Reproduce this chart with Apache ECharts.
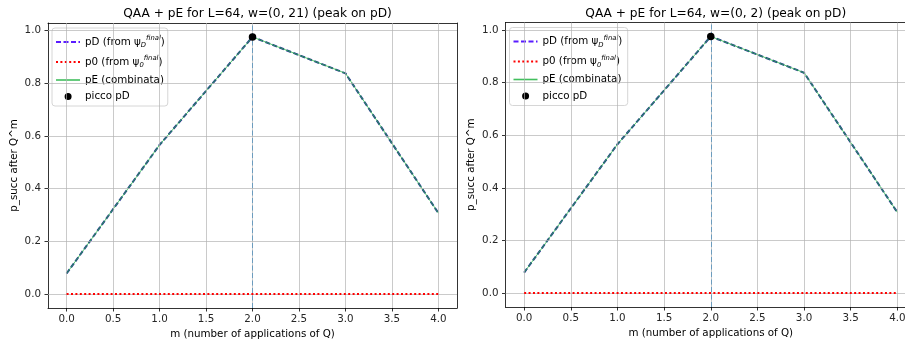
<!DOCTYPE html>
<html><head><meta charset="utf-8">
<script src="https://cdn.jsdelivr.net/npm/echarts@6/dist/echarts.min.js"></script>
<style>html,body{margin:0;padding:0;background:#fff;overflow:hidden}#c{width:905px;height:341px}</style>
</head><body><div id="c"></div>
<script>
const mValues = [0, 1, 2, 3, 4];
const pD_left = [0.078, 0.566, 0.976, 0.838, 0.307];
const p0_left = [0, 0, 0, 0, 0];
const pE_left = [0.078, 0.566, 0.976, 0.838, 0.307];
const pD_right = [0.078, 0.566, 0.976, 0.838, 0.307];
const p0_right = [0, 0, 0, 0, 0];
const pE_right = [0.078, 0.566, 0.976, 0.838, 0.307];
const peakM = 2;
const titles = ['QAA + pE for L=64, w=(0, 21) (peak on pD)', 'QAA + pE for L=64, w=(0, 2) (peak on pD)'];
const xTicks = [0, 0.5, 1, 1.5, 2, 2.5, 3, 3.5, 4];
const yTicks = [0, 0.2, 0.4, 0.6, 0.8, 1.0];
const names = ['pD (from ψ_D^final)', 'p0 (from ψ_0^final)', 'pE (combinata)', 'picco pD'];

const FONT = 'DejaVu Sans';
const FS = 10.3;
const chart = echarts.init(document.getElementById('c'), null, {renderer: 'canvas'});
const grids = [
  {left: 48, width: 409, top: 23, height: 285},
  {left: 505.5, width: 410.5, top: 22.5, height: 284.5}
];
function pairs(ys) { return mValues.map((m, i) => [m, ys[i]]); }
const panels = [[pD_left, p0_left, pE_left], [pD_right, p0_right, pE_right]];
const dotIcon = 'path://M0,0 L0.01,0 L0,0.01 Z M24,11 L23.99,11 L24,10.99 Z M8.6,5.5 A3.5,3.5 0 1 0 15.6,5.5 A3.5,3.5 0 1 0 8.6,5.5 Z';

const option = {
  animation: false,
  backgroundColor: '#fff',
  textStyle: {fontFamily: FONT},
  title: grids.map((g, i) => ({
    text: titles[i],
    left: g.left + g.width / 2,
    textAlign: 'center',
    top: 3,
    textStyle: {fontFamily: FONT, fontSize: 12.2, fontWeight: 'normal', color: '#000'}
  })),
  grid: grids.map(g => Object.assign({containLabel: false, outerBoundsMode: 'none', show: false}, g)),
  legend: grids.map((g, i) => ({
    left: g.left + 4,
    top: g.top + 5,
    orient: 'vertical',
    data: names.map((n, k) => ({
      name: n + (i ? ' ' : ''),
      icon: k === 3 ? dotIcon : undefined,
      itemStyle: k < 3 ? {color: 'rgba(0,0,0,0)', borderWidth: 0, opacity: 0} : {color: '#000', borderWidth: 0},
      lineStyle: k === 0 ? {color: '#5a1cff', width: 2, type: [5, 2.5]} :
                 k === 1 ? {color: '#ff0000', width: 2, type: [2, 2.4]} :
                 k === 2 ? {color: '#2db84d', width: 1.6, type: 'solid'} : undefined
    })),
    itemWidth: 24, itemHeight: 11, itemGap: 6,
    padding: [7, 3, 4, 3],
    backgroundColor: 'rgba(255,255,255,0.8)',
    borderColor: '#d6d6d6', borderWidth: 1, borderRadius: 3,
    formatter: function (n) {
      if (n.indexOf('pD (from') === 0) return 'pD (from ψ{sub|D}{sup|final})';
      if (n.indexOf('p0 (from') === 0) return 'p0 (from ψ{sub|0}{sup|final})';
      return n;
    },
    textStyle: {fontFamily: FONT, fontSize: FS, color: '#000',
      rich: {
        sub: {fontSize: 6.8, fontFamily: FONT, fontStyle: 'italic', verticalAlign: 'bottom', padding: [7, 0, 0, 0]},
        sup: {fontSize: 6.8, fontFamily: FONT, fontStyle: 'italic', verticalAlign: 'top', padding: [0, 0, 7, 0]}
      }
    }
  })),
  xAxis: grids.map((g, i) => ({
    type: 'value', gridIndex: i, min: -0.2, max: 4.2,
    name: 'm (number of applications of Q)', nameLocation: 'middle', nameGap: 20,
    nameTextStyle: {fontFamily: FONT, fontSize: FS, color: '#000'},
    axisLine: {show: true, onZero: false, lineStyle: {color: '#000', width: 0.8}},
    axisTick: {show: true, length: 3.5, customValues: xTicks, lineStyle: {color: '#000', width: 0.8}},
    axisLabel: {show: true, customValues: xTicks, margin: 6, fontFamily: FONT, fontSize: FS, color: '#262626',
      formatter: v => v.toFixed(1)},
    splitLine: {show: false}
  })).concat(grids.map((g, i) => ({
    type: 'value', gridIndex: i, min: -0.2, max: 4.2, position: 'top',
    axisLine: {show: true, onZero: false, lineStyle: {color: '#000', width: 0.8}},
    axisTick: {show: false}, axisLabel: {show: false},
    splitLine: {show: false}
  }))),
  yAxis: grids.map((g, i) => ({
    type: 'value', gridIndex: i, min: -0.053, max: 1.029,
    name: 'p_succ after Q^m', nameLocation: 'middle', nameGap: 29, nameRotate: 90,
    nameTextStyle: {fontFamily: FONT, fontSize: FS, color: '#000'},
    axisLine: {show: true, onZero: false, lineStyle: {color: '#000', width: 0.8}},
    axisTick: {show: true, length: 3.5, customValues: yTicks, lineStyle: {color: '#000', width: 0.8}},
    axisLabel: {show: true, customValues: yTicks, margin: 7, fontFamily: FONT, fontSize: FS, color: '#262626',
      formatter: v => v.toFixed(1)},
    splitLine: {show: false}
  })).concat(grids.map((g, i) => ({
    type: 'value', gridIndex: i, min: -0.053, max: 1.029, position: 'right',
    axisLine: {show: true, onZero: false, lineStyle: {color: '#000', width: 0.8}},
    axisTick: {show: false}, axisLabel: {show: false}, splitLine: {show: false}
  }))),
  series: []
};

grids.forEach((g, i) => {
  const [pD, p0, pE] = panels[i];
  const sfx = i ? ' ' : '';
  option.series.push({
    type: 'line', xAxisIndex: i, yAxisIndex: i, data: [], silent: true, z: 1,
    markLine: {
      silent: true, symbol: 'none', label: {show: false}, animation: false,
      lineStyle: {color: '#b0b0b0', width: 0.9, type: 'solid', opacity: 0.75},
      data: xTicks.map(v => ({xAxis: v})).concat(yTicks.map(v => ({yAxis: v})))
    }
  });
  option.series.push({
    name: names[0] + sfx, type: 'line', xAxisIndex: i, yAxisIndex: i, data: pairs(pD),
    symbol: 'none', z: 3, lineStyle: {color: '#23308f', width: 2, type: [5, 2.5]}, itemStyle: {color: '#5a1cff'},
    markLine: {
      silent: true, symbol: 'none', label: {show: false},
      lineStyle: {color: '#1f77b4', opacity: 0.55, width: 1, type: [5, 2.5]},
      data: [{xAxis: peakM}]
    }
  });
  option.series.push({
    name: names[1] + sfx, type: 'line', xAxisIndex: i, yAxisIndex: i, data: pairs(p0),
    symbol: 'none', z: 6, lineStyle: {color: '#ff0000', width: 2, type: [2, 2.4]}, itemStyle: {color: '#ff0000'}
  });
  option.series.push({
    name: names[2] + sfx, type: 'line', xAxisIndex: i, yAxisIndex: i, data: pairs(pE),
    symbol: 'none', z: 4, lineStyle: {color: '#2db84d', width: 0.9, type: 'solid', opacity: 0.9}, itemStyle: {color: '#2db84d'}
  });
  option.series.push({
    name: names[3] + sfx, type: 'scatter', xAxisIndex: i, yAxisIndex: i,
    data: [[peakM, pD[mValues.indexOf(peakM)]]], symbolSize: 7.5, z: 5,
    itemStyle: {color: '#000', opacity: 1}
  });
});
chart.setOption(option);
</script></body></html>
